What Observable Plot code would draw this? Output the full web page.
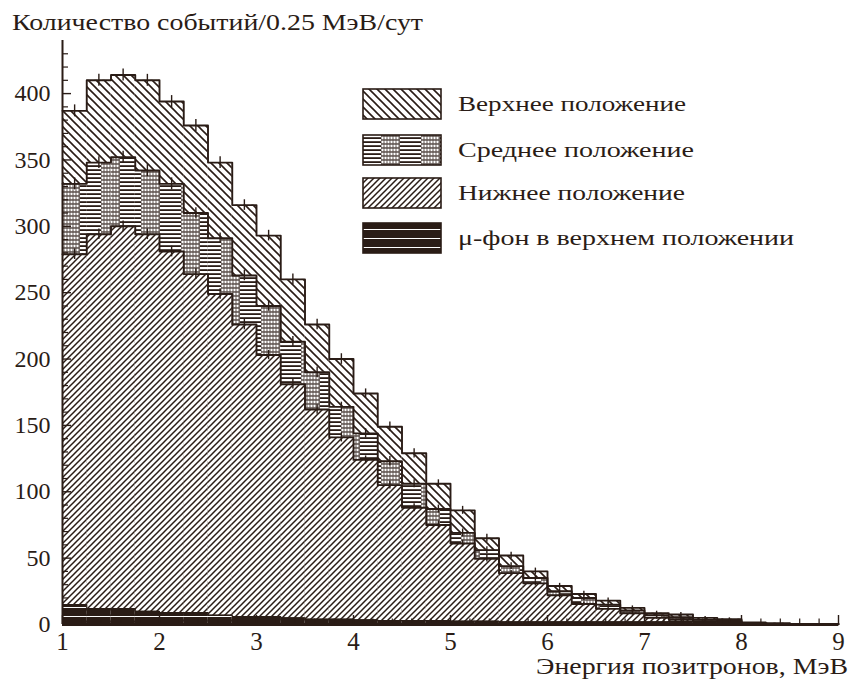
<!DOCTYPE html>
<html><head><meta charset="utf-8">
<script src="https://cdn.jsdelivr.net/npm/d3@7"></script>
<script src="https://cdn.jsdelivr.net/npm/@observablehq/plot@0.6"></script>
<style>
html,body{margin:0;padding:0;background:#fff;}
#chart{width:850px;height:686px;overflow:hidden;}
</style></head><body><div id="chart"></div>
<script>
// Bin lower edges, MeV (bin width 0.25 MeV)
const binStart = [1.00,1.25,1.50,1.75,2.00,2.25,2.50,2.75,3.00,3.25,3.50,3.75,4.00,4.25,4.50,4.75,
                  5.00,5.25,5.50,5.75,6.00,6.25,6.50,6.75,7.00,7.25,7.50,7.75,8.00,8.25,8.50,8.75];
const binWidth = 0.25;

// Events / 0.25 MeV / day
const upperPos  = [387,410,414,410,394,376,348,316,293,260,226,200,174,149,129,106,
                   86,65,52,40,29,23,18,12.5,8.5,7.5,5,4,1.5,1,0.5,0.5];
const middlePos = [332,348,352,342,332,310,291,263,240,213,190,164,144,123,106,87,
                   69,56,44,35,25,20,15,10.5,7,5.5,3.5,3,1,0.5,0.3,0.2];
const lowerPos  = [279,294,300,294,281,264,249,226,203,181,162,141,124,105,88,75,
                   61,49.5,38.7,31,22,15.5,11.8,8.5,5,4,2.5,2,0.8,0.4,0.2,0.1];
const muBack    = [15,12,12,10,9,9,7,6,6,5,4,4,3.5,3,3,3,
                   2.5,2.5,2,2,2,2,2,2,2,2.5,2,1.5,0.5,0.3,0.2,0];

// statistical errors (half-length)
const upperErr  = [4.5,4.5,4.5,4.5,4.5,4.5,4.5,4,4,4,4,4,3.5,3.5,3.5,3,3,3,2.5,2.5,2,2,2,1.5,1.5,1.5,1,1,0,0,0,0];
const middleErr = [4.5,4.5,4.5,4.5,4.5,4,4,4,4,4,4,3.5,3.5,3.5,3,3,3,2.5,2.5,2,2,2,1.5,1.5,1.5,1,1,1,0,0,0,0];
const lowerErr  = [4,4,4,4,4,4,4,4,3.5,3.5,3.5,3.5,3,3,3,3,2.5,2.5,2,2,2,1.5,1.5,1.5,1,1,1,1,0,0,0,0];

// axis ticks
const xTickLabels = [1,2,3,4,5,6,7,8,9];
const yTickLabels = [0,50,100,150,200,250,300,350,400];

const seriesNames = ["Верхнее положение","Среднее положение","Нижнее положение","μ-фон в верхнем положении"];
const titleText = "Количество событий/0.25 МэВ/сут";
const xLabelText = "Энергия позитронов, МэВ";

const ink = "#2a1c16";
const font = "'Liberation Serif', 'Times New Roman', serif";

const rows = binStart.map((x, i) => ({
  x0: x, x1: x + binWidth, xc: x + binWidth / 2,
  upper: upperPos[i], middle: middlePos[i], lower: lowerPos[i], mu: muBack[i],
  eU: upperErr[i], eM: middleErr[i], eL: lowerErr[i]
}));
const stepData = key => rows.map(r => ({x: r.x0, y: r[key]}))
  .concat([{x: rows[rows.length - 1].x1, y: rows[rows.length - 1][key]}]);

const xMinor = d3.range(1, 9.0001, 0.2).filter(v => Math.abs(v - Math.round(v)) > 1e-6);
const yMinor = d3.range(10, 440, 10).filter(v => v % 50 !== 0);
const yMajorAll = d3.range(0, 440, 50);

const W = 850, H = 686, mL = 62, mR = 12, mT = 40, mB = 62;
const pxX = 8 / (W - mL - mR);      // MeV per pixel
const pxY = 440 / (H - mT - mB);    // units per pixel

const plot = Plot.plot({
  width: W, height: H,
  marginLeft: mL, marginRight: mR, marginTop: mT, marginBottom: mB,
  style: {fontFamily: font, background: "white", color: ink},
  x: {domain: [1, 9]},
  y: {domain: [0, 440]},
  marks: [
    Plot.rectY(rows, {x1: "x0", x2: "x1", y: "upper", fill: "url(#patUpper)"}),
    Plot.rectY(rows, {x1: "x0", x2: "x1", y: "middle", fill: "url(#patMiddle)"}),
    Plot.rectY(rows, {x1: "x0", x2: "x1", y: "lower", fill: "url(#patLower)"}),
    Plot.rectY(rows, {x1: "x0", x2: "x1", y: "mu", fill: "url(#patMu)"}),
    Plot.line(stepData("upper"), {x: "x", y: "y", curve: "step-after", stroke: ink, strokeWidth: 1.9}),
    Plot.line(stepData("middle"), {x: "x", y: "y", curve: "step-after", stroke: ink, strokeWidth: 1.9}),
    Plot.line(stepData("lower"), {x: "x", y: "y", curve: "step-after", stroke: ink, strokeWidth: 1.9}),
    Plot.line(stepData("mu"), {x: "x", y: "y", curve: "step-after", stroke: ink, strokeWidth: 1.2}),
    Plot.ruleX(rows.filter(r => r.eU > 0), {x: "xc", y1: r => r.upper - r.eU, y2: r => r.upper + r.eU, stroke: ink, strokeWidth: 1.4}),
    Plot.ruleX(rows.filter(r => r.eM > 0), {x: "xc", y1: r => r.middle - r.eM, y2: r => r.middle + r.eM, stroke: ink, strokeWidth: 1.4}),
    Plot.ruleX(rows.filter(r => r.eL > 0), {x: "xc", y1: r => r.lower - r.eL, y2: r => r.lower + r.eL, stroke: ink, strokeWidth: 1.4}),
    // inward ticks
    Plot.ruleY(yMajorAll, {y: d => d, x1: 1, x2: 1 + 9 * pxX, stroke: ink, strokeWidth: 1.4}),
    Plot.ruleY(yMinor, {y: d => d, x1: 1, x2: 1 + 6 * pxX, stroke: ink, strokeWidth: 1.2}),
    Plot.ruleX(xTickLabels, {x: d => d, y1: 0, y2: 9 * pxY, stroke: ink, strokeWidth: 1.4}),
    Plot.ruleX(xMinor, {x: d => d, y1: 0, y2: 5.5 * pxY, stroke: ink, strokeWidth: 1.2}),
    // axis lines
    Plot.ruleX([1], {y1: 0, y2: 440, stroke: ink, strokeWidth: 2}),
    Plot.ruleY([0], {x1: 1, x2: 9, stroke: ink, strokeWidth: 3}),
    // tick labels
    Plot.axisX({ticks: xTickLabels, tickSize: 0, tickPadding: 8, fontSize: 25, label: null, tickFormat: d => String(d)}),
    Plot.axisY({ticks: yTickLabels, tickSize: 0, tickPadding: 12, fontSize: 24, label: null, tickFormat: d => String(d)})
  ]
});

const svg = d3.select(plot);
svg.selectAll("text").attr("fill", ink);
const defs = svg.insert("defs", ":first-child");

// Upper: "\" hatch
const pu = defs.append("pattern").attr("id", "patUpper").attr("patternUnits", "userSpaceOnUse")
  .attr("width", 8).attr("height", 8);
pu.append("rect").attr("width", 8).attr("height", 8).attr("fill", "white");
pu.append("path").attr("d", "M-2,-2 L10,10 M-2,6 L2,10 M6,-2 L10,2").attr("stroke", ink).attr("stroke-width", 1.6);

// Lower: "/" hatch, denser
const pl = defs.append("pattern").attr("id", "patLower").attr("patternUnits", "userSpaceOnUse")
  .attr("width", 6).attr("height", 6);
pl.append("rect").attr("width", 6).attr("height", 6).attr("fill", "white");
pl.append("path").attr("d", "M-2,8 L8,-2 M-2,2 L2,-2 M4,8 L8,4").attr("stroke", ink).attr("stroke-width", 1.5);

// Middle: horizontal lines with dotted columns
const pm = defs.append("pattern").attr("id", "patMiddle").attr("patternUnits", "userSpaceOnUse")
  .attr("width", 40).attr("height", 4);
pm.append("rect").attr("width", 40).attr("height", 4).attr("fill", "white");
pm.append("rect").attr("x", 0).attr("y", 1.2).attr("width", 21).attr("height", 1.8).attr("fill", ink);
pm.append("rect").attr("x", 21).attr("y", 0).attr("width", 19).attr("height", 4).attr("fill", "#6e6460");
for (let cx = 22.5; cx < 40; cx += 3) {
  pm.append("circle").attr("cx", cx).attr("cy", 2).attr("r", 1.15).attr("fill", "white");
}

// Mu background: dark with thin white lines
const pmu = defs.append("pattern").attr("id", "patMu").attr("patternUnits", "userSpaceOnUse")
  .attr("width", 40).attr("height", 9);
pmu.append("rect").attr("width", 40).attr("height", 9).attr("fill", ink);
pmu.append("rect").attr("x", 0).attr("y", 4).attr("width", 40).attr("height", 1).attr("fill", "white");

// Title (y-axis label) and x label
svg.append("text").attr("x", 12).attr("y", 30).attr("text-anchor", "start").attr("font-size", 23)
  .attr("font-family", font).attr("fill", ink)
  .attr("textLength", 411).attr("lengthAdjust", "spacingAndGlyphs").text(titleText);
svg.append("text").attr("x", 536).attr("y", 674).attr("text-anchor", "start").attr("font-size", 23)
  .attr("font-family", font).attr("fill", ink).attr("textLength", 312).attr("lengthAdjust", "spacingAndGlyphs")
  .text(xLabelText);

// Legend
const legendFills = ["url(#patUpper)", "url(#patMiddle)", "url(#patLower)", "url(#patMu)"];
const legendTop = [89, 135, 178, 223];
const legendTextLen = [228, 236, 227, 336];
const lg = svg.append("g");
seriesNames.forEach((name, i) => {
  lg.append("rect").attr("x", 363).attr("y", legendTop[i]).attr("width", 78).attr("height", 30)
    .attr("fill", legendFills[i]).attr("stroke", ink).attr("stroke-width", 1.6);
  lg.append("text").attr("x", 458).attr("y", legendTop[i] + 22).attr("text-anchor", "start").attr("font-size", 22)
    .attr("font-family", font).attr("fill", ink)
    .attr("textLength", legendTextLen[i]).attr("lengthAdjust", "spacingAndGlyphs").text(name);
});

document.getElementById("chart").appendChild(plot);
</script>
</body></html>
